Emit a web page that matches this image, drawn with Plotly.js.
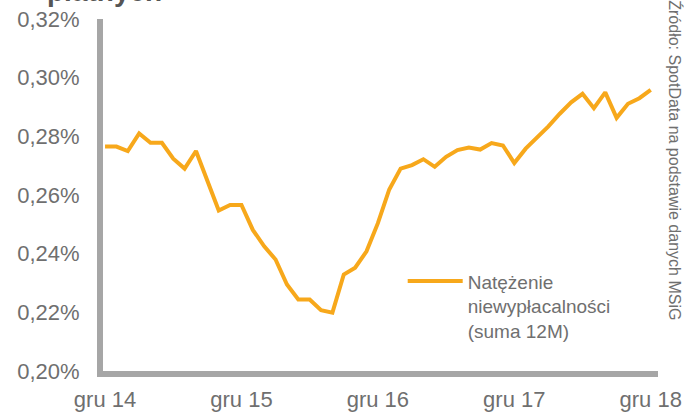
<!DOCTYPE html>
<html>
<head>
<meta charset="utf-8">
<script src="https://cdn.plot.ly/plotly-3.0.1.min.js"></script>
<style>
  html, body { margin: 0; padding: 0; background: #ffffff; }
  #chart { width: 685px; height: 413px; }
</style>
</head>
<body>
<div id="chart"></div>
<script>
// Polish month abbreviations and the 49 months from gru 14 to gru 18
const monthNames = ["sty", "lut", "mar", "kwi", "maj", "cze", "lip", "sie", "wrz", "paź", "lis", "gru"];
const months = [];
for (let y = 14, m = 11; months.length < 49; ) {
  months.push(monthNames[m] + " " + y);
  m++;
  if (m === 12) { m = 0; y++; }
}

// Natężenie niewypłacalności (suma 12M), in %
const values = [
  0.2765, 0.2765, 0.2750, 0.2810, 0.2778, 0.2778, 0.2724, 0.2690, 0.2750, 0.2645,
  0.2547, 0.2566, 0.2566, 0.2481, 0.2425, 0.2380, 0.2295, 0.2244, 0.2244, 0.2207,
  0.2199, 0.2329, 0.2352, 0.2408, 0.2504, 0.2619, 0.2690, 0.2702, 0.2722, 0.2696,
  0.2730, 0.2753, 0.2762, 0.2755, 0.2777, 0.2769, 0.2709, 0.2758, 0.2796, 0.2834,
  0.2877, 0.2916, 0.2945, 0.2896, 0.2950, 0.2863, 0.2911, 0.2930, 0.2958
];

const seriesName = "Natężenie<br>niewypłacalności<br>(suma 12M)";
const xTicks = ["gru 14", "gru 15", "gru 16", "gru 17", "gru 18"];
const yTicks = [0.20, 0.22, 0.24, 0.26, 0.28, 0.30, 0.32];
const yTickText = ["0,20%", "0,22%", "0,24%", "0,26%", "0,28%", "0,30%", "0,32%"];
const sourceText = "Źródło: SpotData na podstawie danych MSiG";
const titleText = "płatnych";

const font = "Liberation Sans, Arial, sans-serif";
const grey = "#6f6f6f";

const trace = {
  type: "scatter",
  mode: "lines",
  x: months,
  y: values,
  name: seriesName,
  line: { color: "#F7A81B", width: 4 },
  hoverinfo: "x+y"
};

const layout = {
  width: 685,
  height: 413,
  margin: { l: 103, r: 27, t: 19, b: 42, pad: 0 },
  paper_bgcolor: "#ffffff",
  plot_bgcolor: "#ffffff",
  font: { family: font, color: grey, size: 22 },
  showlegend: true,
  legend: {
    x: 0.54, y: 0.309, xanchor: "left", yanchor: "top",
    valign: "top",
    itemwidth: 55,
    bgcolor: "rgba(0,0,0,0)",
    font: { family: font, size: 19, color: grey }
  },
  xaxis: {
    type: "category",
    range: [-0.18, 48.64],
    tickmode: "array",
    tickvals: xTicks,
    ticktext: xTicks,
    showgrid: false,
    zeroline: false,
    showline: true,
    linecolor: "#a6a6a6",
    linewidth: 6,
    ticks: "",
    ticklabelstandoff: 4,
    tickfont: { family: font, size: 22, color: grey }
  },
  yaxis: {
    range: [0.20, 0.32],
    tickmode: "array",
    tickvals: yTicks,
    ticktext: yTickText,
    showgrid: false,
    zeroline: false,
    showline: true,
    linecolor: "#a6a6a6",
    linewidth: 6,
    ticks: "",
    ticklabelstandoff: 13,
    tickfont: { family: font, size: 22, color: grey }
  },
  annotations: [
    {
      text: sourceText,
      xref: "paper", yref: "paper",
      x: 1.03, y: 1.06,
      xanchor: "center", yanchor: "top",
      textangle: 90,
      showarrow: false,
      font: { family: font, size: 16, color: grey }
    },
    {
      text: "<b>" + titleText + "</b>",
      xref: "paper", yref: "paper",
      x: -0.105, y: 1.077,
      xanchor: "left", yanchor: "middle",
      showarrow: false,
      font: { family: font, size: 28, color: "#555555" }
    }
  ]
};

Plotly.newPlot("chart", [trace], layout, { displayModeBar: false, staticPlot: true });
</script>
</body>
</html>
